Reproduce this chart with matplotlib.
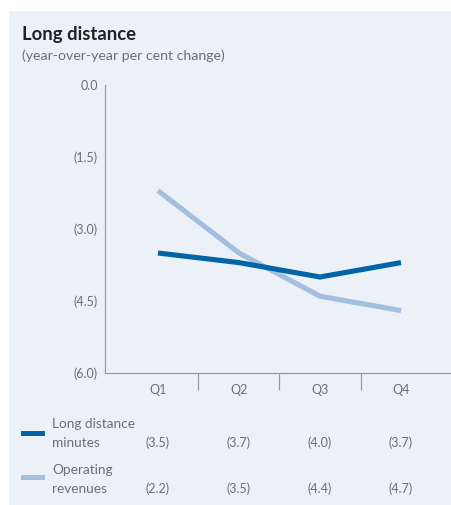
import matplotlib
matplotlib.use("Agg")
import matplotlib.pyplot as plt
from matplotlib.patches import Rectangle
import matplotlib.transforms as mtransforms

plt.rcParams['font.family'] = ['Lato', 'DejaVu Sans']

quarters = ["Q1", "Q2", "Q3", "Q4"]
minutes = [-3.5, -3.7, -4.0, -3.7]
revenues = [-2.2, -3.5, -4.4, -4.7]
series_names = [["Long distance", "minutes"], ["Operating", "revenues"]]
yticks = [0.0, -1.5, -3.0, -4.5, -6.0]
ytick_labels = ["0.0", "(1.5)", "(3.0)", "(4.5)", "(6.0)"]

dark = "#0064A5"
light = "#A3BFE0"
bg = "#ECF1F8"
gray_txt = "#6E6E6E"
axis_col = "#9A9A9A"

W, H = 451, 505
fig = plt.figure(figsize=(W / 100, H / 100), dpi=100)
fig.patch.set_facecolor("white")
fig.add_artist(Rectangle((9 / W, 0), 1 - 9 / W, (H - 11) / H, transform=fig.transFigure,
                         facecolor=bg, edgecolor="none", zorder=0))

fig.text(22 / W, 1 - 34 / H, "Long distance", fontsize=13.3, fontweight="bold",
         color="#222222", va="center", ha="left")
fig.text(22 / W, 1 - 56 / H, "(year-over-year per cent change)", fontsize=10.2,
         color=gray_txt, va="center", ha="left")

ax = fig.add_axes([105 / W, (H - 373) / H, (W - 105) / W, (373 - 85) / H])
ax.set_facecolor("none")
x = list(range(len(quarters)))
ax.plot(x, revenues, color=light, lw=3.7, solid_capstyle="butt", zorder=3)
ax.plot(x, minutes, color=dark, lw=3.7, solid_capstyle="butt", zorder=4)

ax.set_ylim(-6.0, 0.0)
ax.set_xlim(-0.654, 3.617)
ax.set_yticks(yticks)
ax.set_yticklabels(ytick_labels)
ax.set_xticks(x)
ax.set_xticklabels(quarters)
ax.set_xticks([0.5, 1.5, 2.5], minor=True)
ax.tick_params(axis="y", length=0, pad=5, labelsize=9, labelcolor=gray_txt)
ax.tick_params(axis="x", which="major", length=0, pad=8, labelsize=9, labelcolor=gray_txt)
ax.tick_params(axis="x", which="minor", length=12.5, width=0.9, color=axis_col, direction="out")
for s in ["top", "right"]:
    ax.spines[s].set_visible(False)
for s in ["left", "bottom"]:
    ax.spines[s].set_color(axis_col)
    ax.spines[s].set_linewidth(0.9)

# bottom table
trans = mtransforms.blended_transform_factory(ax.transData, fig.transFigure)
rows = [(minutes, dark, 433, 424, 443), (revenues, light, 477, 470, 489)]
for (vals, col, ysw, y1, y2), names in zip(rows, series_names):
    fig.add_artist(Rectangle((21 / W, 1 - (ysw + 2.5) / H), 24 / W, 5 / H,
                             transform=fig.transFigure, facecolor=col, edgecolor="none"))
    fig.text(52 / W, 1 - y1 / H, names[0], fontsize=9.8, color=gray_txt, va="center", ha="left")
    fig.text(52 / W, 1 - y2 / H, names[1], fontsize=9.8, color=gray_txt, va="center", ha="left")
    for xi, v in zip(x, vals):
        fig.text(xi, 1 - y2 / H, f"({abs(v):.1f})", transform=trans, fontsize=9,
                 color=gray_txt, va="center", ha="center")

fig.savefig("out.png", dpi=100, facecolor="white")
